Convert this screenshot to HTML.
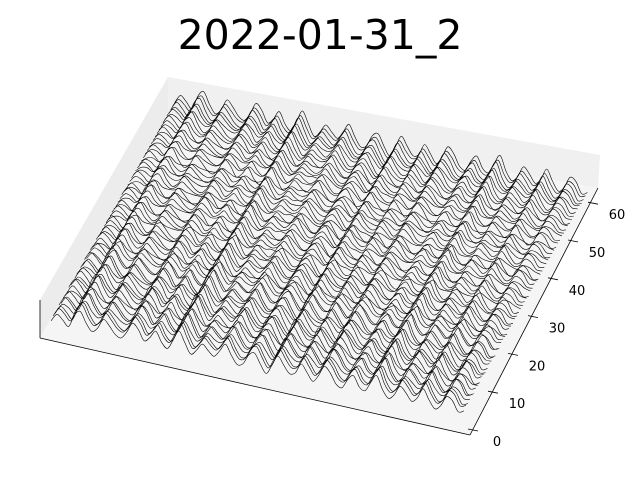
<!DOCTYPE html>
<html><head><meta charset="utf-8"><style>
html,body{margin:0;padding:0;background:#fff;}
svg{display:block;font-family:"DejaVu Sans","Liberation Sans",sans-serif;}
</style></head><body>
<svg id="chart" width="640" height="480" viewBox="0 0 640 480" xmlns="http://www.w3.org/2000/svg">
<text x="320" y="49" text-anchor="middle" font-size="41" fill="#000">2022-01-31_2</text>
<polygon points="40,300 168,77 168,113 40,338" fill="#ececec"/>
<polygon points="168,77 600,155 598,188 168,113" fill="#f0f0f0"/>
<polygon points="40,338 470,435 598,188 168,113" fill="#f5f5f5"/>
<line x1="40" y1="300" x2="40" y2="338" stroke="#000" stroke-width="0.8"/>
<line x1="40" y1="338" x2="470" y2="435" stroke="#000" stroke-width="0.8"/>
<line x1="470" y1="435" x2="598" y2="188" stroke="#000" stroke-width="0.8"/>
<g id="ticks"></g>
<g id="lines"></g>
</svg>
<script>
const yTicks=[0,10,20,30,40,50,60];
const profile=[0.3,0.6,0.4,0.2,0.7,0.9,0.5,0.2,0.4,0.8,0.6,0.3,0.2,0.5,0.9,0.7,0.3,0.5,0.8,0.4,0.2,0.6,1.0,0.6,0.2,0.4,0.7,0.5,0.3,0.6,0.9,0.5,0.2,0.3,0.7,0.8,0.4,0.1,0.5,0.9,0.6,0.3,0.4,0.8,0.5,0.2,0.5,0.9,0.7,0.3,0.2,0.6,0.8,0.4,0.3,0.7,1.0,0.5,0.2,0.4,0.8,0.6,0.3,0.5,0.9,0.5,0.2,0.4,0.8,0.7,0.3,0.4];
const bump=[0.2,0.1,0.4,0.5,0.2,0.1,0.3,0.6,0.4,0.1,0.2,0.5,0.6,0.3,0.1,0.2,0.5,0.3,0.1,0.4,0.6,0.3,0.1,0.2,0.5,0.4,0.2,0.3,0.6,0.2,0.1,0.4,0.5,0.3,0.1,0.2,0.5,0.6,0.3,0.1,0.2,0.5,0.3,0.1,0.4,0.6,0.3,0.1,0.2,0.5,0.6,0.2,0.1,0.4,0.5,0.2,0.1,0.3,0.6,0.4,0.1,0.2,0.5,0.3,0.1,0.4,0.6,0.3,0.1,0.2,0.5,0.3];
const rowAmp=[0.9,1.0,0.95,0.85,1.05,0.9,1.0,0.8,0.95,1.1,0.9,0.85,1.0,0.95,0.8,1.0,0.9,1.05,0.85,0.9,1.0,0.75,0.9,1.0,0.85,0.95,0.8,0.9,1.0,0.7,0.85,0.95,0.8,0.9,0.75,0.85,1.0,0.8,0.9,0.7,0.85,0.95,0.8,0.75,0.9,0.85,0.7,0.95,0.8,0.9,0.75,0.85,0.9,0.8,0.95,0.85,0.9,1.0,0.85,0.95,0.9,1.0,0.95,1.0];
const rowMix=[0.1,0.2,0.1,0.3,0.2,0.1,0.2,0.4,0.1,0.2,0.3,0.2,0.1,0.3,0.4,0.2,0.1,0.3,0.2,0.4,0.3,0.5,0.2,0.3,0.4,0.2,0.5,0.3,0.2,0.6,0.4,0.3,0.5,0.2,0.6,0.4,0.3,0.5,0.2,0.6,0.4,0.3,0.5,0.6,0.3,0.4,0.6,0.2,0.5,0.3,0.6,0.4,0.3,0.5,0.2,0.4,0.3,0.2,0.4,0.3,0.2,0.1,0.2,0.1];
const NS="http://www.w3.org/2000/svg";
const FL=[40,338],FR=[470,435],BL=[168,113];
const yMin=-1.3,yMax=64;
function proj(u,yv,z){
  const t=(yv-yMin)/(yMax-yMin);
  return [FL[0]+u*(FR[0]-FL[0])+t*(BL[0]-FL[0]), FL[1]+u*(FR[1]-FL[1])+t*(BL[1]-FL[1])-6-z*30];
}
function tickPos(v){ return [472+v*2.0, 430-v*3.78]; }
const tg=document.getElementById('ticks');
yTicks.forEach(v=>{
  const p=tickPos(v);
  const px=p[0], py=p[1];
  const l=document.createElementNS(NS,'line');
  
  
  l.setAttribute('x1',px-4);l.setAttribute('y1',py-1);l.setAttribute('x2',px+6);l.setAttribute('y2',py+1);
  l.setAttribute('stroke','#000');l.setAttribute('stroke-width','0.8');
  tg.appendChild(l);
  const tx=document.createElementNS(NS,'text');
  
  
  tx.setAttribute('x',px+25);tx.setAttribute('y',py+16);
  tx.setAttribute('text-anchor','middle');tx.setAttribute('font-size','13');
  tx.textContent=v;
  tg.appendChild(tx);
});
const lg=document.getElementById('lines');
const n=profile.length;
for(let i=rowAmp.length-1;i>=0;i--){
  const pts=[];
  for(let j=0;j<n;j++){
    const z=profile[j]*rowAmp[i]+bump[j]*rowMix[i];
    pts.push(proj(0.02+0.96*j/(n-1),i,z));
  }
  let d='M'+pts[0][0].toFixed(1)+','+pts[0][1].toFixed(1);
  for(let k=0;k<n-1;k++){
    const p0=pts[Math.max(0,k-1)],p1=pts[k],p2=pts[k+1],p3=pts[Math.min(n-1,k+2)];
    const c1=[p1[0]+(p2[0]-p0[0])/6,p1[1]+(p2[1]-p0[1])/6];
    const c2=[p2[0]-(p3[0]-p1[0])/6,p2[1]-(p3[1]-p1[1])/6];
    d+='C'+c1[0].toFixed(1)+','+c1[1].toFixed(1)+' '+c2[0].toFixed(1)+','+c2[1].toFixed(1)+' '+p2[0].toFixed(1)+','+p2[1].toFixed(1);
  }
  const path=document.createElementNS(NS,'path');
  
  
  path.setAttribute('d',d);
  path.setAttribute('fill','none');path.setAttribute('stroke','#000');path.setAttribute('stroke-width','0.6');
  lg.appendChild(path);
}
</script>
</body></html>
